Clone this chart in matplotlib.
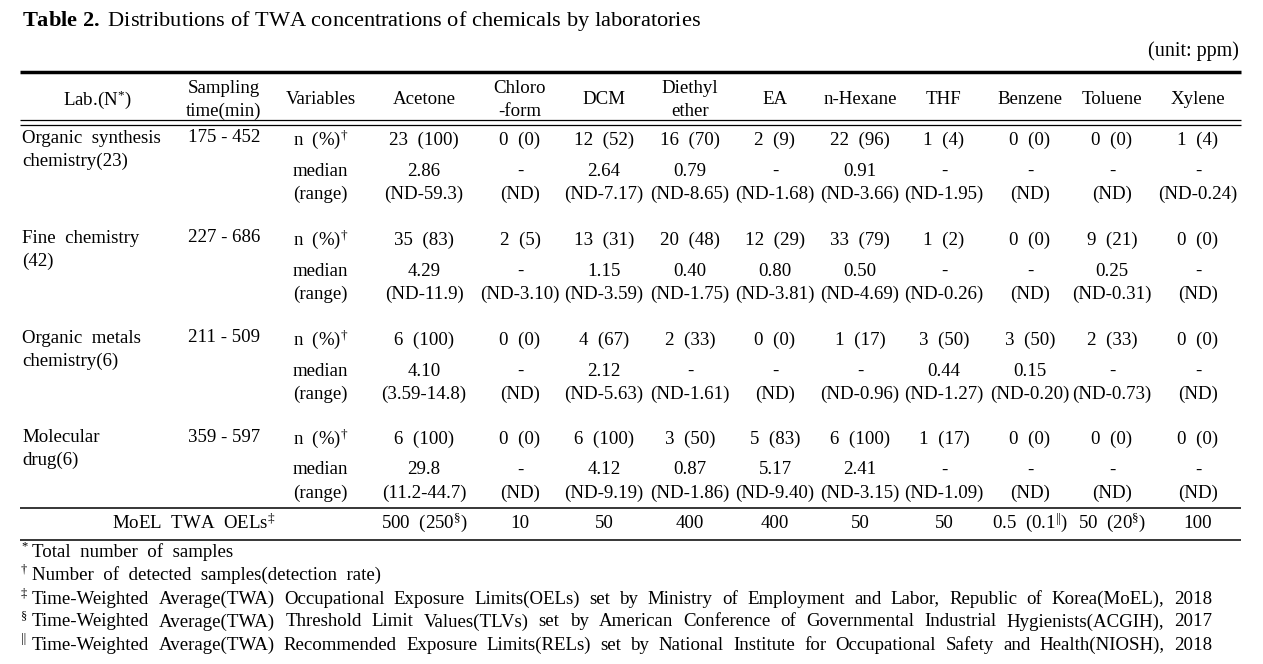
import numpy as np
import matplotlib.pyplot as plt

plt.rcParams['font.family'] = ['Liberation Serif', 'DejaVu Serif']
plt.rcParams['mathtext.fontset'] = 'custom'
plt.rcParams['mathtext.rm'] = 'Liberation Serif'
plt.rcParams['mathtext.it'] = 'Liberation Serif:italic'
plt.rcParams['mathtext.bf'] = 'Liberation Serif:bold'

# table contents
chemicals = ["Acetone", "Chloro\n-form", "DCM", "Diethyl\nether", "EA",
             "n-Hexane", "THF", "Benzene", "Toluene", "Xylene"]
labs = ["Organic  synthesis\nchemistry(23)", "Fine  chemistry\n(42)",
        "Organic  metals\nchemistry(6)", "Molecular\ndrug(6)"]
sampling = ["175 - 452", "227 - 686", "211 - 509", "359 - 597"]

n_det = [[23, 0, 12, 16, 2, 22, 1, 0, 0, 1],
         [35, 2, 13, 20, 12, 33, 1, 0, 9, 0],
         [6, 0, 4, 2, 0, 1, 3, 3, 2, 0],
         [6, 0, 6, 3, 5, 6, 1, 0, 0, 0]]
pct = [[100, 0, 52, 70, 9, 96, 4, 0, 0, 4],
       [83, 5, 31, 48, 29, 79, 2, 0, 21, 0],
       [100, 0, 67, 33, 0, 17, 50, 50, 33, 0],
       [100, 0, 100, 50, 83, 100, 17, 0, 0, 0]]
medians = [["2.86", "-", "2.64", "0.79", "-", "0.91", "-", "-", "-", "-"],
           ["4.29", "-", "1.15", "0.40", "0.80", "0.50", "-", "-", "0.25", "-"],
           ["4.10", "-", "2.12", "-", "-", "-", "0.44", "0.15", "-", "-"],
           ["29.8", "-", "4.12", "0.87", "5.17", "2.41", "-", "-", "-", "-"]]
ranges = [["ND-59.3", "ND", "ND-7.17", "ND-8.65", "ND-1.68", "ND-3.66", "ND-1.95", "ND", "ND", "ND-0.24"],
          ["ND-11.9", "ND-3.10", "ND-3.59", "ND-1.75", "ND-3.81", "ND-4.69", "ND-0.26", "ND", "ND-0.31", "ND"],
          ["3.59-14.8", "ND", "ND-5.63", "ND-1.61", "ND", "ND-0.96", "ND-1.27", "ND-0.20", "ND-0.73", "ND"],
          ["11.2-44.7", "ND", "ND-9.19", "ND-1.86", "ND-9.40", "ND-3.15", "ND-1.09", "ND", "ND", "ND"]]
oels = [r"500  (250$^{\S}$)", "10", "50", "400", "400", "50", "50",
        r"0.5  (0.1$^{||}$)", r"50  (20$^{\S}$)", "100"]

footnotes = [("*", "Total  number  of  samples", False),
             ("\u2020", "Number  of  detected  samples(detection  rate)", False),
             ("\u2021", "Time-Weighted Average(TWA) Occupational Exposure Limits(OELs) set by Ministry of Employment and Labor, Republic of Korea(MoEL), 2018", True),
             ("\u00a7", "Time-Weighted Average(TWA) Threshold Limit Values(TLVs) set by American Conference of Governmental Industrial Hygienists(ACGIH), 2017", True),
             ("||", "Time-Weighted Average(TWA) Recommended Exposure Limits(RELs) set by National Institute for Occupational Safety and Health(NIOSH), 2018", True)]

fig = plt.figure(figsize=(12.63, 6.64), dpi=100)
ax = fig.add_axes([0, 0, 1, 1])
ax.set_xlim(0, 1263)
ax.set_ylim(664, 0)
ax.axis('off')

fs = 13.6
col_x = [424, 520, 604, 690, 775, 860, 944, 1030, 1112, 1198]

# title
ax.text(22, 21, r"$\mathbf{Table\ 2.}$ Distributions of TWA concentrations of chemicals by laboratories",
        fontsize=16.1, va='center', ha='left')
ax.text(1239, 51, "(unit: ppm)", fontsize=14.5, va='center', ha='right')

# rules
ax.plot([20, 1241], [72, 72], color='black', lw=2.5, solid_capstyle='butt')
ax.plot([20, 1241], [120, 120], color='black', lw=0.9, solid_capstyle='butt')
ax.plot([20, 1241], [124.5, 124.5], color='black', lw=0.9, solid_capstyle='butt')
ax.plot([20, 1241], [508, 508], color='black', lw=1.1, solid_capstyle='butt')
ax.plot([20, 1241], [540, 540], color='black', lw=1.1, solid_capstyle='butt')

# header
hy = 100
ax.text(97, hy, r"Lab.(N$^{*}$)", fontsize=fs, ha='center', va='center')
ax.text(224, hy, "Sampling\ntime(min)", fontsize=fs, ha='center', va='center', linespacing=1.42)
ax.text(321, hy, "Variables", fontsize=fs, ha='center', va='center')
for x, c in zip(col_x, chemicals):
    ax.text(x, hy, c, fontsize=fs, ha='center', va='center', linespacing=1.42)

# body
n_y = [140, 240, 340, 439]
for g in range(4):
    y = n_y[g]
    ax.text(22, y - 10, labs[g], fontsize=fs, ha='left', va='top', linespacing=1.42)
    ax.text(224, y - 2, sampling[g], fontsize=fs, ha='center', va='center')
    ax.text(293, y, r"n  (%)$^{\dagger}$", fontsize=fs, ha='left', va='center')
    ax.text(293, y + 31, "median", fontsize=fs, ha='left', va='center')
    ax.text(293, y + 54, "(range)", fontsize=fs, ha='left', va='center')
    for j, x in enumerate(col_x):
        ax.text(x, y, "%d  (%d)" % (n_det[g][j], pct[g][j]), fontsize=fs, ha='center', va='center')
        ax.text(x, y + 31, medians[g][j], fontsize=fs, ha='center', va='center')
        ax.text(x, y + 54, "(%s)" % ranges[g][j], fontsize=fs, ha='center', va='center')

# OEL row
ax.text(194, 523, r"MoEL  TWA  OELs$^{\ddagger}$", fontsize=fs, ha='center', va='center')
for x, v in zip(col_x, oels):
    ax.text(x, 523, v, fontsize=fs, ha='center', va='center')

# footnotes
fig.canvas.draw()
r = fig.canvas.get_renderer()
fy = [552, 575, 599, 622, 645]
for (mark, txt, just), y in zip(footnotes, fy):
    ax.text(21, y - 6, mark, fontsize=9, ha='left', va='center')
    if not just:
        ax.text(32, y, txt, fontsize=fs, ha='left', va='center')
        continue
    words = txt.split(" ")
    objs = [ax.text(0, y, w, fontsize=fs, ha='left', va='center') for w in words]
    widths = [o.get_window_extent(r).width for o in objs]
    gap = (1212 - 32 - sum(widths)) / (len(words) - 1)
    x = 32
    for o, w in zip(objs, widths):
        o.set_x(x)
        x += w + gap

fig.savefig("out.png", dpi=100)
